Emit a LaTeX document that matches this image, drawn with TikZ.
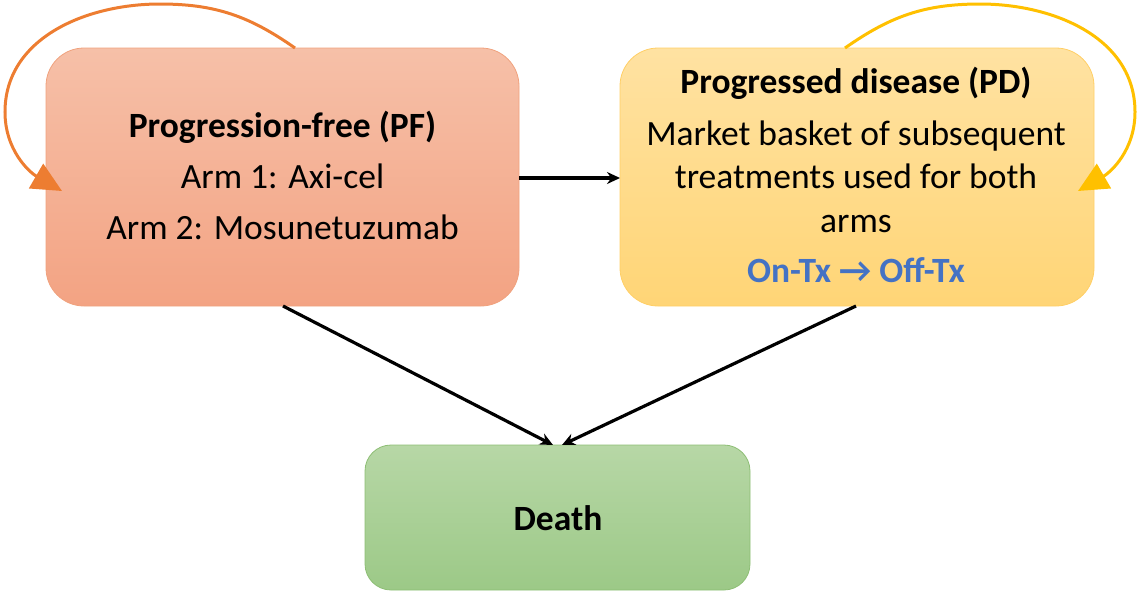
\documentclass[tikz,border=0pt]{standalone}
\usepackage{fontspec}
\setmainfont{Carlito}
\usetikzlibrary{arrows.meta}
\definecolor{pfTop}{HTML}{F6C0A8}
\definecolor{pfBot}{HTML}{F3A383}
\definecolor{pfLine}{HTML}{F0A27E}
\definecolor{pdTop}{HTML}{FFE2A2}
\definecolor{pdBot}{HTML}{FFD576}
\definecolor{pdLine}{HTML}{FFCF66}
\definecolor{dTop}{HTML}{B7D7A6}
\definecolor{dBot}{HTML}{9CC987}
\definecolor{dLine}{HTML}{8DBE74}
\definecolor{loopOrange}{HTML}{ED7D31}
\definecolor{loopYellow}{HTML}{FFC000}
\definecolor{txBlue}{HTML}{4472C4}
\tikzset{
  statebox/.style={rounded corners=38pt, line width=0.8pt, inner sep=0pt},
  txt/.style={anchor=base, inner sep=0pt, font=\fontsize{35.5}{42}\selectfont},
  btxt/.style={txt, font=\fontsize{35.5}{42}\selectfont\bfseries},
  flow/.style={line width=3.2pt, -{Stealth[length=13pt,width=12pt]}},
  selfloop/.style={line width=3pt, -{Triangle[length=30pt,width=28pt]}}
}
\begin{document}
\begin{tikzpicture}[x=1pt,y=-1pt]
\useasboundingbox (0,0) rectangle (1138,592);
% boxes
\node[statebox, top color=pfTop, bottom color=pfBot, draw=pfLine,
  minimum width=473pt, minimum height=258pt] (pf) at (282.5,177) {};
\node[statebox, top color=pdTop, bottom color=pdBot, draw=pdLine,
  minimum width=474pt, minimum height=258pt] (pd) at (857,177) {};
\node[statebox, rounded corners=26pt, top color=dTop, bottom color=dBot, draw=dLine,
  minimum width=385pt, minimum height=145pt] (death) at (557.5,517.5) {};
% texts
\node[btxt] (pft) at (282.5,137) {Progression-free (PF)};
\node[txt] (pfa) at (282.5,188) {Arm 1: Axi-cel};
\node[txt] (pfb) at (282.5,239) {Arm 2: Mosunetuzumab};
\node[btxt] (pdt) at (856,93) {Progressed disease (PD)};
\node[txt] (pda) at (856,145) {Market basket of subsequent};
\node[txt] (pdb) at (856,188) {treatments used for both};
\node[txt] (pdc) at (856,232) {arms};
\node[btxt, text=txBlue] (pdd) at (856,282) {On-Tx → Off-Tx};
\node[btxt] (dt) at (558,530) {Death};
% connector anchors
\coordinate (pfR) at (519,178);
\coordinate (pdL) at (620,178);
\coordinate (pfB) at (283,306);
\coordinate (pdB) at (856,306);
\coordinate (dA) at (553,445);
\coordinate (dB) at (562,445);
\draw[flow] (pfR) -- (pdL);
\draw[flow] (pfB) -- (dA);
\draw[flow] (pdB) -- (dB);
% self loops
\coordinate (pfS) at (295,48);
\coordinate (pfE) at (62,191);
\coordinate (pdS) at (845,48);
\coordinate (pdE) at (1078,191);
\draw[selfloop, loopOrange] (pfS) to[out=145,in=0] (160,4) to[out=180,in=90] (5,112) to[out=-90,in=150] (pfE);
\draw[selfloop, loopYellow] (pdS) to[out=35,in=180] (980,4) to[out=0,in=90] (1135,112) to[out=-90,in=30] (pdE);
\end{tikzpicture}
\end{document}
